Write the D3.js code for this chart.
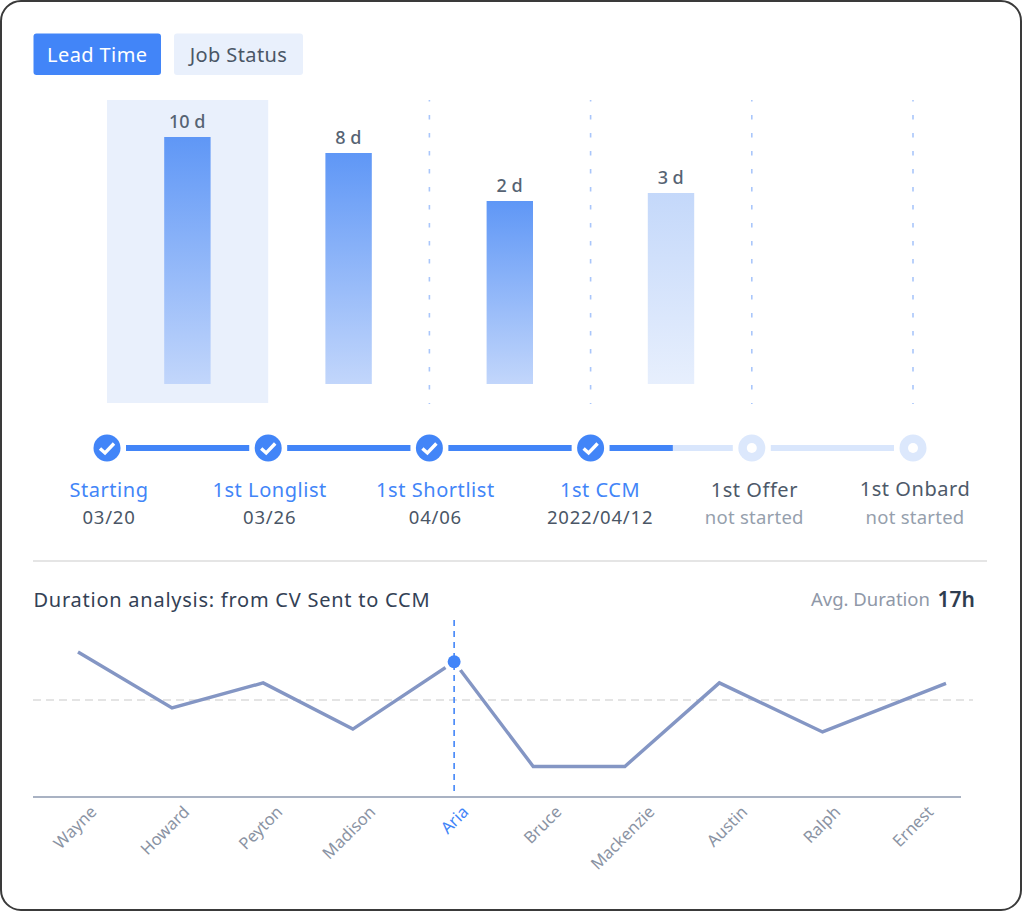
<!DOCTYPE html>
<html>
<head>
<meta charset="utf-8">
<script src="https://cdn.jsdelivr.net/npm/d3@7"></script>
<style>
  html, body { margin: 0; padding: 0; background: #fff; }
  svg { display: block; }
  text { font-family: "Noto Sans", sans-serif; }
</style>
</head>
<body>
<svg id="chart" width="1024" height="912"></svg>
<script>
var stages = ['Starting', '1st Longlist', '1st Shortlist', '1st CCM', '1st Offer', '1st Onbard']
var stageDates = ['03/20', '03/26', '04/06', '2022/04/12', 'not started', 'not started']
var stageDone = [true, true, true, true, false, false]
var leadDays = [10, 8, 2, 3]
var progress = 3.51

var people = ['Wayne', 'Howard', 'Peyton', 'Madison', 'Aria', 'Bruce', 'Mackenzie', 'Austin', 'Ralph', 'Ernest']
var hours = [25.4, 15.6, 20, 11.9, 23.7, 5.35, 5.35, 20, 11.4, 19.9]
var hourOrder = [0, 0.975, 1.92, 2.85, 3.9, 4.72, 5.67, 6.65, 7.72, 9]
var avgHours = 17
var activePerson = 'Aria'

var blue = '#4285f8'
var svg = d3.select('#chart')

// card
svg.append('rect')
  .attr('x', 1).attr('y', 1)
  .attr('width', 1020).attr('height', 909)
  .attr('rx', 20)
  .attr('fill', '#fff')
  .attr('stroke', '#3a3a3a')
  .attr('stroke-width', 2)

// tabs
function tab(x, w, label, fill, color) {
  svg.append('rect')
    .attr('x', x).attr('y', 33.5)
    .attr('width', w).attr('height', 41.5)
    .attr('rx', 3)
    .attr('fill', fill)
  svg.append('text')
    .attr('x', x + w / 2).attr('y', 62)
    .attr('text-anchor', 'middle')
    .attr('font-size', 20)
    .attr('letter-spacing', 0.4)
    .attr('fill', color)
    .text(label)
}
tab(33.5, 127.5, 'Lead Time', blue, '#fff')
tab(174, 129, 'Job Status', '#e9f0fc', '#4a5666')

// bars
var band = d3.scaleBand()
  .domain(stages)
  .range([107, 107 + 161.2 * 6])
var barBottom = 384
var y = d3.scaleLinear().domain([0, 10]).range([217, 137])

var defs = svg.append('defs')
function gradient(id, top, bottom) {
  var g = defs.append('linearGradient')
    .attr('id', id)
    .attr('x1', 0).attr('y1', 0)
    .attr('x2', 0).attr('y2', 1)
  g.append('stop').attr('offset', 0).attr('stop-color', top)
  g.append('stop').attr('offset', 1).attr('stop-color', bottom)
}
gradient('bar-on', '#5f97f6', '#c2d6fb')
gradient('bar-off', '#c4d8fa', '#e7effd')

svg.append('rect')
  .attr('x', band(stages[0])).attr('y', 100)
  .attr('width', band.bandwidth()).attr('height', 303)
  .attr('fill', '#e9f0fc')

svg.selectAll('.sep')
  .data(stages.slice(2))
  .enter()
  .append('line')
  .attr('class', 'sep')
  .attr('x1', function(d) { return band(d) })
  .attr('x2', function(d) { return band(d) })
  .attr('y1', 100).attr('y2', 404)
  .attr('stroke', '#a9c6fb')
  .attr('stroke-width', 1.6)
  .attr('stroke-dasharray', '4.5 13.5')
  .attr('stroke-dashoffset', 3)

svg.selectAll('.bar')
  .data(leadDays)
  .enter()
  .append('rect')
  .attr('class', 'bar')
  .attr('x', function(d, i) { return band(stages[i]) + band.bandwidth() / 2 - 23.4 })
  .attr('y', function(d) { return y(d) })
  .attr('width', 46.4)
  .attr('height', function(d) { return barBottom - y(d) })
  .attr('fill', function(d, i) { return i === 3 ? 'url(#bar-off)' : 'url(#bar-on)' })

svg.selectAll('.bar-label')
  .data(leadDays)
  .enter()
  .append('text')
  .attr('class', 'bar-label')
  .attr('x', function(d, i) { return band(stages[i]) + band.bandwidth() / 2 - 0.5 })
  .attr('y', function(d) { return y(d) - 9 })
  .attr('text-anchor', 'middle')
  .attr('font-size', 18)
  .attr('font-weight', 500)
  .attr('fill', '#566373')
  .text(function(d) { return d + ' d' })

// stepper
var step = d3.scalePoint().domain(stages).range([107, 913])
var stepIndex = d3.scaleLinear().domain([0, 5]).range([107, 913])
var stepY = 448
var labelNudge = [2, 1.5, 6, 9.5, 2.5, 2]

d3.pairs(stages).forEach(function(p) {
  svg.append('line')
    .attr('x1', step(p[0]) + 19).attr('x2', step(p[1]) - 19)
    .attr('y1', stepY).attr('y2', stepY)
    .attr('stroke', '#d9e6fc')
    .attr('stroke-width', 6)
})
d3.pairs(stages).forEach(function(p) {
  var end = Math.min(step(p[1]) - 19, stepIndex(progress))
  if (end <= step(p[0]) + 19) return
  svg.append('line')
    .attr('x1', step(p[0]) + 19).attr('x2', end)
    .attr('y1', stepY).attr('y2', stepY)
    .attr('stroke', blue)
    .attr('stroke-width', 6)
})

var nodes = svg.selectAll('.node')
  .data(stages)
  .enter()
  .append('g')
  .attr('class', 'node')
  .attr('transform', function(d) { return 'translate(' + step(d) + ',' + stepY + ')' })

nodes.append('circle')
  .attr('r', 13.5)
  .attr('fill', function(d, i) { return stageDone[i] ? blue : '#dce8fc' })

nodes.filter(function(d, i) { return !stageDone[i] })
  .append('circle')
  .attr('r', 5)
  .attr('fill', '#fff')

nodes.filter(function(d, i) { return stageDone[i] })
  .append('path')
  .attr('d', 'M-7,0.5L-2,5L7,-4.5')
  .attr('fill', 'none')
  .attr('stroke', '#fff')
  .attr('stroke-width', 3.4)

svg.selectAll('.stage')
  .data(stages)
  .enter()
  .append('text')
  .attr('class', 'stage')
  .attr('x', function(d, i) { return step(d) + labelNudge[i] })
  .attr('y', function(d, i) { return i === 5 ? 496 : 497 })
  .attr('text-anchor', 'middle')
  .attr('font-size', 20)
  .attr('letter-spacing', 0.55)
  .attr('fill', function(d, i) { return stageDone[i] ? blue : '#4d5969' })
  .text(function(d) { return d })

svg.selectAll('.stage-date')
  .data(stageDates)
  .enter()
  .append('text')
  .attr('class', 'stage-date')
  .attr('x', function(d, i) { return step(stages[i]) + labelNudge[i] })
  .attr('y', 524)
  .attr('text-anchor', 'middle')
  .attr('font-size', 18.5)
  .attr('letter-spacing', function(d, i) { return stageDone[i] ? 0.8 : 0.25 })
  .attr('fill', function(d, i) { return stageDone[i] ? '#4a5666' : '#969fad' })
  .text(function(d) { return d })

svg.append('line')
  .attr('x1', 33).attr('x2', 987)
  .attr('y1', 561).attr('y2', 561)
  .attr('stroke', '#dcdcdc')
  .attr('stroke-width', 1.5)

// duration header
svg.append('text')
  .attr('x', 33.5).attr('y', 607)
  .attr('font-size', 20)
  .attr('letter-spacing', 0.75)
  .attr('fill', '#334155')
  .text('Duration analysis: from CV Sent to CCM')
svg.append('text')
  .attr('x', 930).attr('y', 606)
  .attr('text-anchor', 'end')
  .attr('font-size', 18.5)
  .attr('fill', '#8f98a8')
  .text('Avg. Duration')
svg.append('text')
  .attr('x', 975).attr('y', 607)
  .attr('text-anchor', 'end')
  .attr('font-size', 21)
  .attr('font-weight', 600)
  .attr('fill', '#2e3c4f')
  .text('17h')

// duration line
var lineX = d3.scaleLinear().domain([0, 9]).range([78, 946])
var lineY = d3.scaleLinear().domain([0, avgHours]).range([797, 700])
var nameX = d3.scalePoint().domain(people).range([97, 934])

svg.append('line')
  .attr('x1', 33).attr('x2', 973)
  .attr('y1', lineY(avgHours)).attr('y2', lineY(avgHours))
  .attr('stroke', '#dcdcdc')
  .attr('stroke-width', 1.5)
  .attr('stroke-dasharray', '8 5')

var line = d3.line()
  .x(function(d, i) { return lineX(hourOrder[i]) })
  .y(function(d) { return lineY(d) })

svg.append('path')
  .datum(hours)
  .attr('d', line)
  .attr('fill', 'none')
  .attr('stroke', '#8496c4')
  .attr('stroke-width', 3.4)

var axis = svg.append('g')
  .attr('transform', 'translate(0,' + lineY(0) + ')')
  .call(d3.axisBottom(nameX).tickSize(0))
axis.select('.domain')
  .attr('d', 'M33,0H961')
  .attr('stroke', '#a9b2c3')
  .attr('stroke-width', 2)
axis.selectAll('text')
  .attr('x', 0).attr('y', 0).attr('dy', 0)
  .attr('transform', 'translate(0,16) rotate(-45)')
  .attr('text-anchor', 'end')
  .style('font-family', '"Noto Sans", sans-serif')
  .attr('font-size', 16.5)
  .attr('fill', function(d) { return d === activePerson ? blue : '#8a93a3' })

// active marker
var ai = people.indexOf(activePerson)
svg.append('circle')
  .attr('cx', lineX(hourOrder[ai])).attr('cy', lineY(hours[ai]))
  .attr('r', 10.5)
  .attr('fill', '#fff')
svg.append('line')
  .attr('x1', lineX(hourOrder[ai])).attr('x2', lineX(hourOrder[ai]))
  .attr('y1', 620).attr('y2', 795)
  .attr('stroke', blue)
  .attr('stroke-width', 1.6)
  .attr('stroke-dasharray', '6 5')
svg.append('circle')
  .attr('cx', lineX(hourOrder[ai])).attr('cy', lineY(hours[ai]))
  .attr('r', 6.5)
  .attr('fill', blue)
</script>
</body>
</html>
